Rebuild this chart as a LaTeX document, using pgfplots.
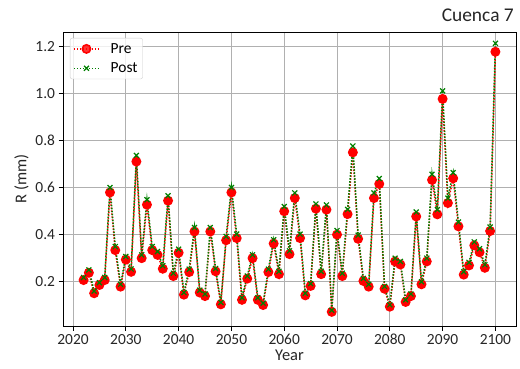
\documentclass[border=0pt]{standalone}
\usepackage{fontspec}
\setmainfont{Carlito}
\usepackage{pgfplots}
\usepackage{pgfplotstable}
\pgfplotsset{compat=1.18}

\definecolor{mplred}{RGB}{255,0,0}
\definecolor{mplgreen}{RGB}{0,128,0}
\definecolor{gridgray}{RGB}{176,176,176}
\definecolor{legedge}{RGB}{204,204,204}

% year, R before (pre) and after (post)
\pgfplotstableread{
year pre post
2022 0.207 0.218
2023 0.238 0.250
2024 0.151 0.160
2025 0.186 0.196
2026 0.207 0.218
2027 0.579 0.600
2028 0.334 0.349
2029 0.179 0.189
2030 0.294 0.307
2031 0.242 0.254
2032 0.710 0.736
2033 0.300 0.314
2034 0.527 0.548
2035 0.334 0.349
2036 0.314 0.328
2037 0.255 0.268
2038 0.544 0.565
2039 0.224 0.236
2040 0.323 0.338
2041 0.145 0.154
2042 0.241 0.253
2043 0.413 0.430
2044 0.154 0.164
2045 0.139 0.148
2046 0.413 0.430
2047 0.244 0.256
2048 0.104 0.112
2049 0.376 0.392
2050 0.579 0.600
2051 0.385 0.402
2052 0.123 0.132
2053 0.213 0.224
2054 0.300 0.314
2055 0.123 0.132
2056 0.101 0.109
2057 0.241 0.253
2058 0.362 0.378
2059 0.232 0.244
2060 0.499 0.519
2061 0.317 0.331
2062 0.555 0.577
2063 0.385 0.402
2064 0.142 0.151
2065 0.182 0.192
2066 0.510 0.530
2067 0.232 0.244
2068 0.506 0.526
2069 0.072 0.079
2070 0.400 0.417
2071 0.224 0.236
2072 0.487 0.507
2073 0.749 0.776
2074 0.382 0.398
2075 0.203 0.214
2076 0.179 0.189
2077 0.555 0.577
2078 0.615 0.638
2079 0.170 0.180
2080 0.094 0.102
2081 0.286 0.300
2082 0.273 0.286
2083 0.114 0.123
2084 0.139 0.148
2085 0.477 0.496
2086 0.189 0.200
2087 0.286 0.300
2088 0.632 0.656
2089 0.486 0.506
2090 0.976 1.010
2091 0.534 0.555
2092 0.639 0.663
2093 0.435 0.453
2094 0.230 0.242
2095 0.269 0.282
2096 0.354 0.369
2097 0.325 0.340
2098 0.259 0.272
2099 0.415 0.432
2100 1.176 1.212
}\datatable

\begin{document}
\begin{tikzpicture}
\begin{axis}[
    scale only axis,
    width=453bp, height=294bp,
    xmin=2018.1, xmax=2103.9,
    ymin=0.012, ymax=1.26,
    xtick={2020,2030,2040,2050,2060,2070,2080,2090,2100},
    ytick={0.2,0.4,0.6,0.8,1.0,1.2},
    xtick pos=lower, ytick pos=left,
    tick align=outside,
    major tick length=4.5bp,
    tick style={black, line width=0.8bp},
    axis line style={black, line width=0.8bp},
    grid=major,
    major grid style={gridgray, line width=0.8bp},
    /pgf/number format/assume math mode=true,
    x tick label style={/pgf/number format/set thousands separator={}, font=\fontsize{15.5}{17}\selectfont, color=black!85},
    y tick label style={/pgf/number format/.cd, fixed, fixed zerofill, precision=1, /tikz/.cd, font=\fontsize{15.5}{17}\selectfont, color=black!85},
    xlabel={Year}, ylabel={R (mm)},
    label style={font=\fontsize{16.5}{18}\selectfont, color=black!85},
    xlabel style={yshift=2bp},
    title={Cuenca 7},
    title style={at={(1,1)}, anchor=south east, yshift=2bp, inner sep=2bp, font=\fontsize{19.5}{21}\selectfont, color=black!85},
    legend style={at={(0,1)}, anchor=north west, xshift=7bp, yshift=-6bp,
        draw=legedge, rounded corners=2bp, fill=white, fill opacity=0.8, text opacity=1,
        font=\fontsize{15.5}{17}\selectfont, row sep=4bp, inner sep=3bp},
    legend cell align=left,
    legend image code/.code={
        \draw[#1] (0bp,0bp) -- (25bp,0bp);
        \draw[#1, solid] plot coordinates {(12.5bp,0bp)};
    },
]
\addplot[mplred, line width=1.5bp, dash pattern=on 1.5bp off 1.5bp,
    mark=*, mark size=4.2bp, mark options={solid, fill=mplred, draw=mplred}]
    table[x=year, y=pre]{\datatable};
\addlegendentry{\hspace{9bp}Pre\hspace{4bp}}
\addplot[mplgreen, line width=1.5bp, dash pattern=on 1.5bp off 1.5bp,
    mark=x, mark size=3.5bp, mark options={solid, line width=1.2bp}]
    table[x=year, y=post]{\datatable};
\addlegendentry{\hspace{9bp}Post\hspace{4bp}}
\end{axis}
\path ([xshift=-63bp, yshift=-43bp]current axis.south west)
    rectangle ([xshift=4bp, yshift=32bp]current axis.north east);
\end{tikzpicture}
\end{document}
